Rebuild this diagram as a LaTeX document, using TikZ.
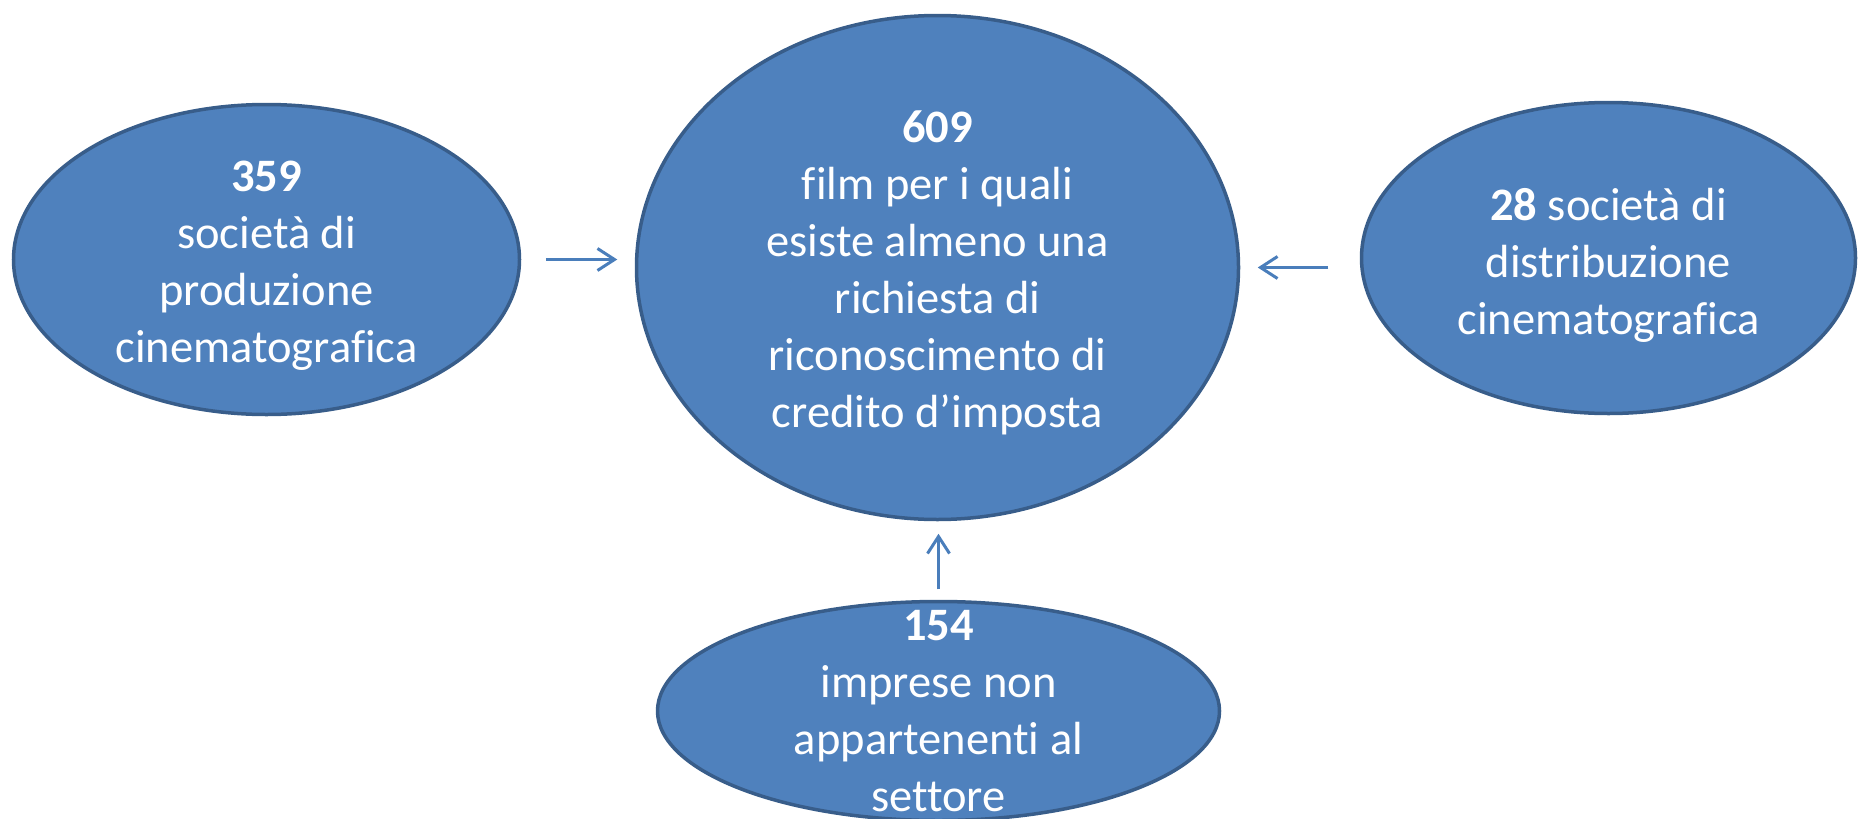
\documentclass[tikz,border=0pt]{standalone}
\usepackage{fontspec}
\setmainfont{Carlito}[Ligatures=NoCommon]
\usetikzlibrary{shapes.geometric,arrows.meta}
\definecolor{bubblefill}{HTML}{4F81BD}
\definecolor{bubbleedge}{HTML}{385D8A}
\definecolor{flowblue}{HTML}{4A7EBB}
\tikzset{
  bubble/.style={ellipse,draw=bubbleedge,fill=bubblefill,line width=3.5pt,inner sep=0pt},
  bubbletext/.style={text=white,align=center,inner sep=0pt,font=\fontsize{46.5}{57}\selectfont},
  flow/.style={draw=flowblue,line width=3pt,-{Straight Barb[length=17pt,width=22pt]}}
}
\begin{document}
\begin{tikzpicture}[x=1pt,y=-1pt]
        \useasboundingbox (0,0) rectangle (1858,819);
        \node [bubble,minimum width=506pt,minimum height=310pt] (prod) at (266.5,259.5) {};
        \node [bubble,minimum width=602pt,minimum height=504pt] (film) at (937.5,267.5) {};
        \node [bubble,minimum width=494pt,minimum height=311pt] (distr) at (1608.5,258) {};
        \node [bubble,minimum width=562pt,minimum height=219pt] (imprese) at (938.5,711) {};
        \node [bubbletext] (prodtext) at ([yshift=-6.5pt]prod.center) {\textbf{359}\\società di\\produzione\\cinematografica};
        \node [bubbletext] (filmtext) at ([yshift=-5pt]film.center) {\textbf{609}\\film per i quali\\esiste almeno una\\richiesta di\\riconoscimento di\\credito d’imposta};
        \node [bubbletext] (distrtext) at ([yshift=-7pt]distr.center) {\textbf{28} società di\\distribuzione\\cinematografica};
        \node [bubbletext] (impresetext) at (imprese.center) {\textbf{154}\\imprese non\\appartenenti al\\settore};
        \draw [flow,shorten <=24.5pt,shorten >=17.5pt] (prod.east) -- (prod.east -| film.west);
        \draw [flow,shorten <=31.5pt,shorten >=17.5pt] (distr.west |- film.east) -- (film.east);
        \draw [flow,shorten <=10.5pt,shorten >=12.5pt] (imprese.north) -- (imprese.north |- film.south);
\end{tikzpicture}
\end{document}
